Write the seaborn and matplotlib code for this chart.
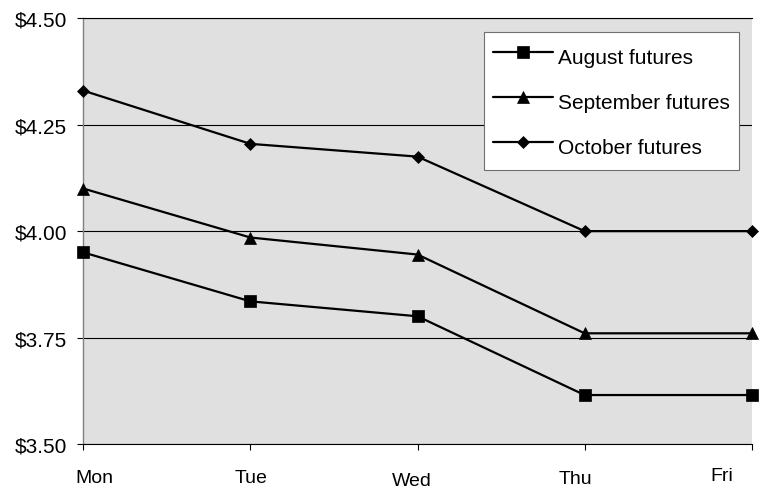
import matplotlib
matplotlib.use("Agg")
import matplotlib.pyplot as plt
from matplotlib.transforms import ScaledTranslation
from matplotlib.ticker import FuncFormatter
import seaborn as sns

# Daily futures prices ($/unit)
days = ["Mon", "Tue", "Wed", "Thu", "Fri"]
august = [3.95, 3.835, 3.80, 3.615, 3.615]
september = [4.10, 3.985, 3.945, 3.76, 3.76]
october = [4.33, 4.205, 4.175, 4.00, 4.00]
series_names = ["August futures", "September futures", "October futures"]
y_ticks = [3.50, 3.75, 4.00, 4.25, 4.50]

sns.set_theme(style="white")
plt.rcParams["font.family"] = ["Liberation Sans", "DejaVu Sans"]

fig = plt.figure(figsize=(7.59, 4.89), dpi=100)
ax = fig.add_axes([0.1098, 0.0900, 0.8806, 0.8706])
ax.set_facecolor("#e0e0e0")

marker_styles = [("s", 8.4), ("^", 9.0), ("D", 6.4)]
xpos = list(range(len(days)))
for name, vals, (mk, ms) in zip(series_names, [august, september, october], marker_styles):
    sns.lineplot(x=xpos, y=vals, ax=ax, color="black", linewidth=1.6,
                 marker=mk, markersize=ms, markeredgecolor="black",
                 markerfacecolor="black", markeredgewidth=0.5,
                 label=name, clip_on=False, zorder=3, sort=False)

ax.set_xlim(0, len(days) - 1)
ax.set_ylim(y_ticks[0], y_ticks[-1])
ax.set_yticks(y_ticks)
ax.yaxis.set_major_formatter(FuncFormatter(lambda v, _: f"${v:.2f}"))
ax.set_xticks(xpos)
ax.set_xticklabels(days)
ax.set_xlabel("")
ax.set_ylabel("")

ax.yaxis.grid(True, color="black", linewidth=0.8)
ax.xaxis.grid(False)
ax.set_axisbelow(True)

for side in ["top", "bottom"]:
    ax.spines[side].set_color("black")
    ax.spines[side].set_linewidth(0.8)
ax.spines["left"].set_color("#808080")
ax.spines["left"].set_linewidth(1.0)
ax.spines["right"].set_visible(False)

ax.tick_params(axis="both", which="major", bottom=True, left=True,
               direction="out", length=4.3, width=0.8, color="black",
               labelcolor="black")
ax.tick_params(axis="y", labelsize=15, pad=7.4)
ax.tick_params(axis="x", labelsize=14, pad=13.7)

leg = ax.legend(loc="upper left", bbox_to_anchor=(484 / 759, 1 - 33 / 489),
                bbox_transform=fig.transFigure, fontsize=15,
                handlelength=2.88, handleheight=1.8, labelspacing=0.744,
                borderpad=0.45, handletextpad=0.2, borderaxespad=0,
                frameon=True, fancybox=False, framealpha=1)
leg.get_frame().set_edgecolor("#707070")
leg.get_frame().set_linewidth(0.8)
leg.get_frame().set_facecolor("white")
for t in leg.get_texts():
    t.set_color("black")

# Staggered placement of the day labels
label_dx = [11, 1, -6, -9, -30]
label_dy = [0, 0, -3.5, -1, 2.3]
for lbl, ddx, ddy in zip(ax.get_xticklabels(), label_dx, label_dy):
    lbl.set_transform(lbl.get_transform() +
                      ScaledTranslation(ddx / 100, ddy / 100, fig.dpi_scale_trans))

fig.savefig("out.png", dpi=100)
